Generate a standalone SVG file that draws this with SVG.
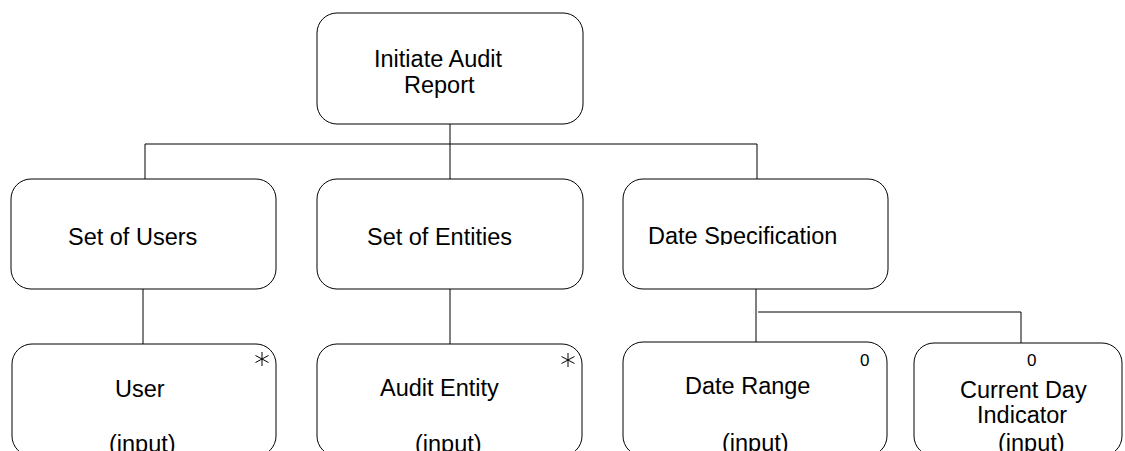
<svg xmlns="http://www.w3.org/2000/svg" width="1125" height="451" viewBox="0 0 1125 451">
<style>
.box{fill:#fff;stroke:#000;stroke-width:1}
.lbl{font-family:"Liberation Sans",Arial,sans-serif;font-size:23.5px;fill:#000}
.mk{font-family:"Liberation Sans",Arial,sans-serif;font-size:17px;fill:#000}
.conn line{stroke:#000;stroke-width:1}
.ast line{stroke:#000;stroke-width:1}
</style>
<defs>
<g id="star" class="ast">
<line x1="0" y1="-7" x2="0" y2="7"/>
<line x1="-6.5" y1="-3.5" x2="6.5" y2="3.5"/>
<line x1="-6.5" y1="3.5" x2="6.5" y2="-3.5"/>
</g>
<clipPath id="c1"><rect x="600" y="0" width="300" height="245"/></clipPath>
<clipPath id="c2"><rect x="300" y="300" width="300" height="396"/></clipPath>
<clipPath id="c3"><rect x="600" y="300" width="300" height="394"/></clipPath>
<clipPath id="c4"><rect x="900" y="300" width="225" height="399"/></clipPath>
</defs>
<rect width="1125" height="451" fill="#fff"/>
<g id="connectors" class="conn">
<line x1="450" y1="124" x2="450" y2="179"/>
<line x1="145" y1="144" x2="757" y2="144"/>
<line x1="145" y1="144" x2="145" y2="179"/>
<line x1="757" y1="144" x2="757" y2="179"/>
<line x1="143" y1="289" x2="143" y2="344"/>
<line x1="450" y1="289" x2="450" y2="344"/>
<line x1="756" y1="289" x2="756" y2="342"/>
<line x1="758" y1="312" x2="1021" y2="312"/>
<line x1="1021" y1="312" x2="1021" y2="343"/>
</g>
<g id="initiate">
<rect class="box" x="317" y="13" width="266" height="111" rx="20"/>
<text class="lbl" x="374" y="67">Initiate Audit</text>
<text class="lbl" x="404" y="93">Report</text>
</g>
<g id="setUsers">
<rect class="box" x="11" y="179" width="265" height="110" rx="20"/>
<text class="lbl" x="68" y="245">Set of Users</text>
</g>
<g id="setEntities">
<rect class="box" x="317" y="179" width="266" height="110" rx="20"/>
<text class="lbl" x="367" y="245">Set of Entities</text>
</g>
<g id="dateSpec">
<rect class="box" x="623" y="179" width="265" height="110" rx="20"/>
<text class="lbl" x="648" y="244" clip-path="url(#c1)">Date Specification</text>
</g>
<g id="user">
<rect class="box" x="12" y="344" width="264" height="112" rx="20"/>
<use href="#star" x="262" y="359"/>
<text class="lbl" x="115" y="397">User</text>
<text class="lbl" x="109" y="452">(input)</text>
</g>
<g id="auditEntity">
<rect class="box" x="317" y="344" width="265" height="112" rx="20"/>
<use href="#star" x="568" y="360"/>
<text class="lbl" x="380" y="396" clip-path="url(#c2)">Audit Entity</text>
<text class="lbl" x="415" y="452">(input)</text>
</g>
<g id="dateRange">
<rect class="box" x="623" y="342" width="264" height="114" rx="20"/>
<text class="mk" x="860" y="366">0</text>
<text class="lbl" x="685" y="394" clip-path="url(#c3)">Date Range</text>
<text class="lbl" x="722" y="451">(input)</text>
</g>
<g id="currentDay">
<rect class="box" x="914" y="343" width="208" height="113" rx="20"/>
<text class="mk" x="1027" y="366">0</text>
<text class="lbl" x="960" y="398" clip-path="url(#c4)">Current Day</text>
<text class="lbl" x="977" y="423">Indicator</text>
<text class="lbl" x="998" y="451">(input)</text>
</g>
</svg>
